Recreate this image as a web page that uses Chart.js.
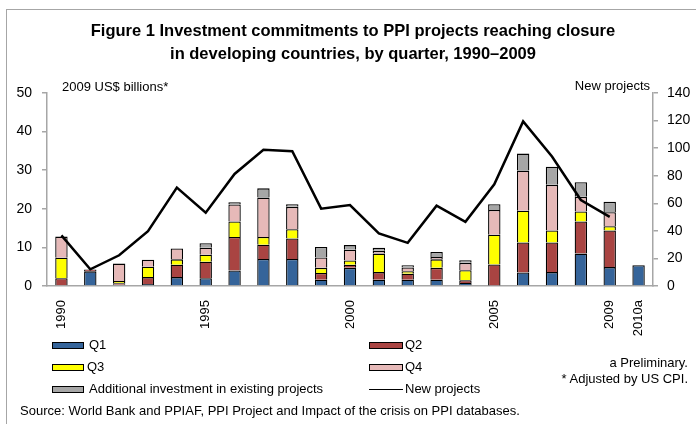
<!DOCTYPE html>
<html>
<head>
<meta charset="utf-8">
<script src="https://cdn.jsdelivr.net/npm/chart.js@4.4.1/dist/chart.umd.min.js"></script>
<style>
  body { margin: 0; background: #fff; }
  #wrap { position: relative; width: 696px; height: 424px; overflow: hidden; font-family: "Liberation Sans", Arial, sans-serif; color: #000; }
  #frame { position: absolute; left: 6px; top: 9px; width: 700px; height: 430px; border-left: 1.5px solid #a6a6a6; border-top: 1.5px solid #a6a6a6; }
  canvas { position: absolute; left: 0; top: 0; }
  .t { position: absolute; white-space: nowrap; }
  .title { left: 0; width: 706px; text-align: center; font-weight: bold; font-size: 16.5px; }
  .lbl { font-size: 13px; }
  .sw { position: absolute; height: 5px; border: 1px solid #000; }
  .ln { position: absolute; height: 0; border-top: 1.5px solid #000; }
</style>
</head>
<body>
<div id="wrap">
  <div id="frame"></div>
  <canvas id="myChart" width="696" height="424"></canvas>
  <div class="t title" style="top:21px">Figure 1 Investment commitments to PPI projects reaching closure</div>
  <div class="t title" style="top:44px">in developing countries, by quarter, 1990–2009</div>
  <div class="t lbl" style="left:62px; top:79px">2009 US$ billions*</div>
  <div class="t lbl" style="right:46px; top:78px">New projects</div>

  <div class="sw" style="left:52px; top:342px; width:30px; background:#35649a"></div>
  <div class="t lbl" style="left:89px; top:337px">Q1</div>
  <div class="sw" style="left:369px; top:342px; width:32px; background:#a94442"></div>
  <div class="t lbl" style="left:405px; top:337px">Q2</div>
  <div class="sw" style="left:52px; top:364px; width:30px; background:#ffff00"></div>
  <div class="t lbl" style="left:87px; top:359px">Q3</div>
  <div class="sw" style="left:369px; top:364px; width:32px; background:#e6b9b8"></div>
  <div class="t lbl" style="left:405px; top:359px">Q4</div>
  <div class="sw" style="left:52px; top:386px; width:30px; background:#a6a6a6"></div>
  <div class="t lbl" style="left:89px; top:381px">Additional investment in existing projects</div>
  <div class="ln" style="left:369px; top:389px; width:34px"></div>
  <div class="t lbl" style="left:405px; top:381px">New projects</div>

  <div class="t lbl" style="right:8px; top:355px">a Preliminary.</div>
  <div class="t lbl" style="right:8px; top:371px">* Adjusted by US CPI.</div>
  <div class="t lbl" style="left:20px; top:403px">Source:  World Bank and PPIAF, PPI Project and Impact of the crisis on PPI databases.</div>
</div>
<script>
const years = ['1990','1991','1992','1993','1994','1995','1996','1997','1998','1999',
               '2000','2001','2002','2003','2004','2005','2006','2007','2008','2009','2010a'];
const xTickLabels = ['1990','','','','','1995','','','','',
                     '2000','','','','','2005','','','','2009','2010a'];

// US$ billions (2009 prices), by quarter of financial closure
const q1 = [0.2, 3.8, 0.3, 0.5, 2.3, 2.0, 4.0, 7.0, 7.0, 1.6, 4.7, 1.6, 1.6, 1.6, 0.8, 0.1, 3.5, 3.6, 8.4, 4.9, 5.4];
const q2 = [1.8, 0.5, 0.4, 1.8, 3.2, 4.3, 8.7, 3.7, 5.3, 1.8, 0.8, 2.0, 1.6, 3.1, 0.7, 5.5, 7.8, 7.7, 8.3, 9.5, null];
const q3 = [5.3, 0, 0.6, 2.7, 1.4, 1.8, 4.0, 2.0, 2.4, 1.3, 1.1, 4.8, 0.6, 2.2, 2.6, 7.7, 8.2, 3.1, 2.6, 1.1, null];
const q4 = [5.5, 0, 4.5, 1.8, 2.8, 1.8, 4.4, 10.2, 5.8, 2.7, 2.8, 0.7, 1.0, 0.6, 1.9, 6.4, 10.4, 11.8, 3.8, 3.6, null];
const additional = [0, 0, 0, 0, 0, 1.2, 0.6, 2.4, 0.7, 2.7, 1.2, 0.8, 0.6, 1.3, 0.7, 1.5, 4.4, 4.7, 3.8, 2.7, null];

// number of new projects (right axis)
const newProjects = [36.7, 12.1, 22.3, 39.8, 71.4, 53.2, 81.3, 98.8, 97.8, 56.1,
                     58.7, 38.1, 31.3, 58.3, 46.6, 73.8, 119.4, 93.9, 62.4, 50.2, null];

const leftTicks = [0, 10, 20, 30, 40, 50];
const rightTicks = [0, 20, 40, 60, 80, 100, 120, 140];

const tickFont = { family: 'Liberation Sans', size: 14 };

function barSet(label, data, color) {
    return {
        type: 'bar',
        label: label,
        data: data,
        backgroundColor: color,
        borderColor: '#000',
        borderWidth: 1.3,
        barPercentage: 0.43,
        categoryPercentage: 1.0,
        yAxisID: 'y',
        order: 1
    };
}

var chartContext = document.getElementById('myChart').getContext('2d');
var myChart = new Chart(chartContext, {
    data: {
        labels: years,
        datasets: [
            {
                type: 'line',
                label: 'New projects',
                data: newProjects,
                borderColor: '#000',
                borderWidth: 2.5,
                pointRadius: 0,
                tension: 0,
                fill: false,
                yAxisID: 'y1',
                order: 0
            },
            barSet('Q1', q1, '#35649a'),
            barSet('Q2', q2, '#a94442'),
            barSet('Q3', q3, '#ffff00'),
            barSet('Q4', q4, '#e6b9b8'),
            barSet('Additional investment in existing projects', additional, '#a6a6a6')
        ]
    },
    options: {
        responsive: false,
        animation: false,
        layout: { padding: { top: 93, left: 0, right: 0, bottom: 0 } },
        plugins: {
            legend: { display: false },
            title: { display: false },
            tooltip: { enabled: false }
        },
        scales: {
            x: {
                stacked: true,
                grid: { display: false, drawTicks: false },
                border: { display: true, color: '#a6a6a6', width: 1.5 },
                ticks: {
                    autoSkip: false,
                    maxRotation: 90,
                    minRotation: 90,
                    padding: 14,
                    color: '#000',
                    font: { family: 'Liberation Sans', size: 13 },
                    callback: (v, i) => xTickLabels[i]
                },
                afterFit: (s) => { s.height = 138; }
            },
            y: {
                position: 'left',
                stacked: true,
                min: 0,
                max: 50,
                afterBuildTicks: (s) => { s.ticks = leftTicks.map(v => ({ value: v })); },
                grid: { display: true, drawOnChartArea: false, drawTicks: true, tickLength: 5, color: '#a6a6a6', lineWidth: 1.5 },
                border: { display: true, color: '#a6a6a6', width: 1.5 },
                ticks: { padding: 10, color: '#000', font: tickFont },
                afterFit: (s) => { s.width = 47; }
            },
            y1: {
                position: 'right',
                min: 0,
                max: 140,
                afterBuildTicks: (s) => { s.ticks = rightTicks.map(v => ({ value: v })); },
                grid: { display: true, drawOnChartArea: false, drawTicks: true, tickLength: 5, color: '#a6a6a6', lineWidth: 1.5 },
                border: { display: true, color: '#a6a6a6', width: 1.5 },
                ticks: { padding: 9, color: '#000', font: tickFont },
                afterFit: (s) => { s.width = 43; }
            }
        }
    }
});
</script>
</body>
</html>
